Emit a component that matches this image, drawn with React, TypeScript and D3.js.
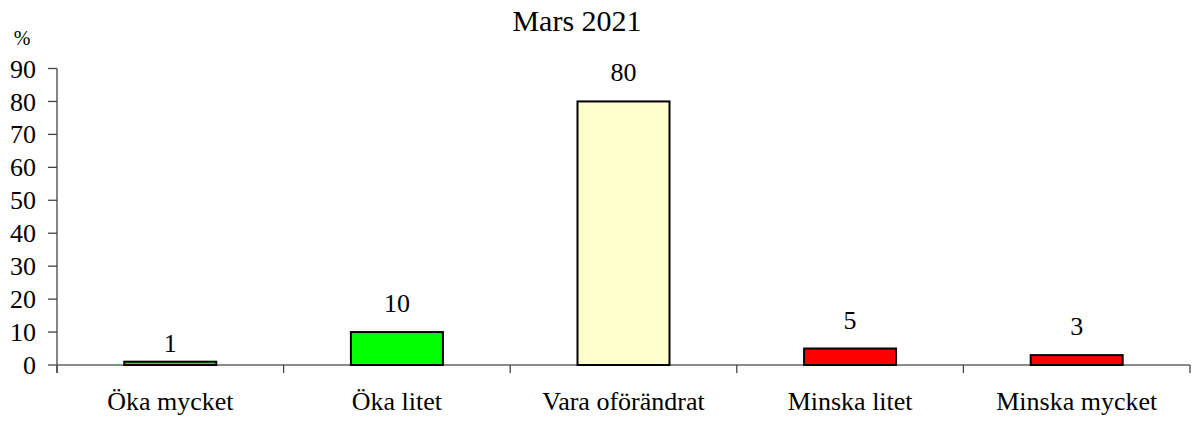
import React from 'react';
import * as d3 from 'd3';

const categories = ['Öka mycket', 'Öka litet', 'Vara oförändrat', 'Minska litet', 'Minska mycket'];
const values = [1, 10, 80, 5, 3];
const colors = ['#00ff00', '#00ff00', '#ffffcc', '#ff0000', '#ff0000'];
const yTicks = [0, 10, 20, 30, 40, 50, 60, 70, 80, 90];

const W = 1194;
const H = 421;
const margin = { left: 57, right: 4, top: 68.5, bottom: 56 };
const font = '"Liberation Serif", "Times New Roman", serif';

const App = () => {
  const x = d3
    .scaleBand()
    .domain(categories)
    .range([margin.left, W - margin.right])
    .padding(0);
  const y = d3
    .scaleLinear()
    .domain([0, 90])
    .range([H - margin.bottom, margin.top]);
  const barW = x.bandwidth() * 0.406;
  const y0 = y(0);

  const bounds = categories.map(c => x(c)).concat([W - margin.right]);

  return (
    <svg
      width={W}
      height={H}
      style={{ position: 'absolute', left: 0, top: 0, display: 'block' }}
      fontFamily={font}
    >
      <rect width={W} height={H} fill="#fff" />
      <text x={577} y={31} textAnchor="middle" fontSize="30px">
        Mars 2021
      </text>
      <text x={22} y={45} textAnchor="middle" fontSize="20px">
        %
      </text>

      {/* y axis */}
      <line x1={margin.left} x2={margin.left} y1={y(90)} y2={y0 + 8} stroke="#444" strokeWidth="1.3" />
      {yTicks.map(t => (
        <g key={t}>
          <line x1={margin.left - 9} x2={margin.left} y1={y(t)} y2={y(t)} stroke="#444" strokeWidth="1.3" />
          <text x={36} y={y(t)} dy="0.35em" textAnchor="end" fontSize="26px">
            {t}
          </text>
        </g>
      ))}

      {/* x axis */}
      <line x1={margin.left} x2={W - margin.right} y1={y0} y2={y0} stroke="#666" strokeWidth="1.3" />
      {bounds.map((b, i) => (
        <line key={i} x1={b} x2={b} y1={y0} y2={y0 + 8} stroke="#444" strokeWidth="1.3" />
      ))}

      {categories.map((c, i) => {
        const cx = x(c) + x.bandwidth() / 2;
        // small bars get their label a bit closer, as in the original
        const lab = Math.max(y(values[i]) - 20, y0 - 13);
        return (
          <g key={c}>
            <rect
              x={cx - barW / 2}
              y={y(values[i])}
              width={barW}
              height={y0 - y(values[i])}
              fill={colors[i]}
              stroke="#000"
              strokeWidth="2"
            />
            <text x={cx} y={values[i] < 2 ? lab : y(values[i]) - 20} textAnchor="middle" fontSize="26px">
              {values[i]}
            </text>
            <text x={cx} y={410} textAnchor="middle" fontSize="26px">
              {c}
            </text>
          </g>
        );
      })}
    </svg>
  );
};

export default App;
